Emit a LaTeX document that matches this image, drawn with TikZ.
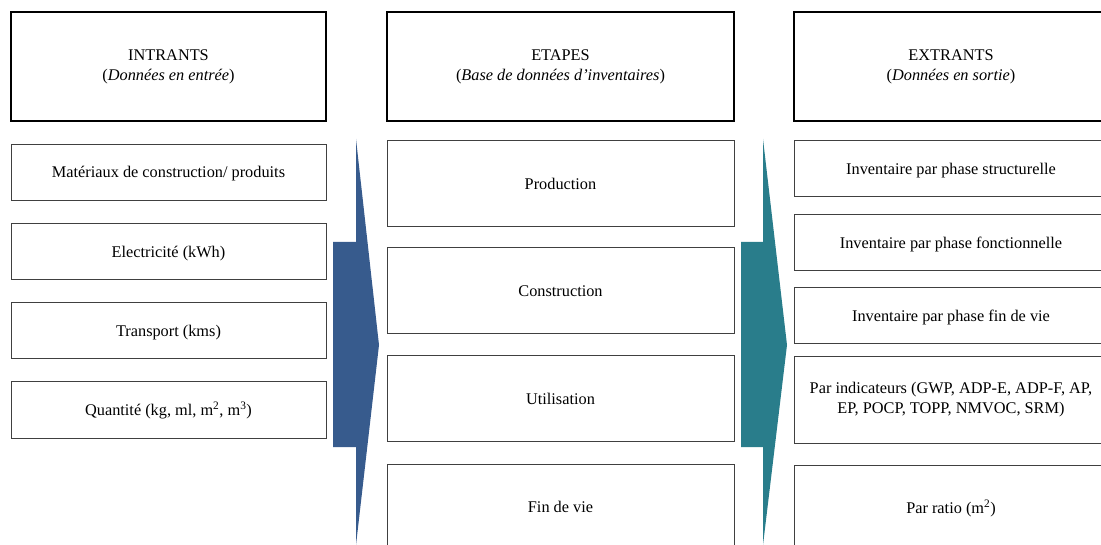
\documentclass[tikz,border=0pt]{standalone}
\usepackage{fontspec}
\setmainfont{Liberation Serif}
\usepackage{tikz}
\usetikzlibrary{positioning}

\definecolor{flecheBleu}{RGB}{55,91,141}
\definecolor{flecheVert}{RGB}{41,125,139}

% hauteur de ligne fixe
\newcommand{\ligne}{\rule[-0.216em]{0pt}{1.107em}}
\newcommand{\ligneHaute}{\rule[-0.216em]{0pt}{\dimexpr1.107em+4pt\relax}}

\tikzset{
  entete/.style = {draw=black, line width=2pt, align=center, inner sep=0pt,
                   minimum height=109pt, font=\fontsize{16.3}{20}\selectfont,
                   execute at begin node=\ligneHaute, execute at end node=\ligne},
  boite/.style  = {draw=black!75, line width=1pt, align=center, inner sep=0pt,
                   font=\fontsize{16.3}{20}\selectfont,
                   execute at begin node=\ligne, execute at end node=\ligne},
}

\begin{document}
\begin{tikzpicture}[x=1pt, y=-1pt]
    \useasboundingbox (0,0) rectangle (1101,545);
    \clip (0,0) rectangle (1101,545);

    % en-tetes
    \node (intr) at (168.5,66.5) [entete, minimum width=315pt] {INTRANTS\\(\textit{Données en entrée})};
    \node (etap) at (560.5,66.5) [entete, minimum width=347pt] {ETAPES\\(\textit{Base de données d’inventaires})};
    \node (extr) at (951,66.5)   [entete, minimum width=314pt] {EXTRANTS\\(\textit{Données en sortie})};

    % intrants
    \node (mat)  at (168.5,172.5) [boite, minimum width=315pt, minimum height=56pt] {Matériaux de construction/ produits};
    \node (elec) at (168.5,252)   [boite, minimum width=315pt, minimum height=56pt] {Electricité (kWh)};
    \node (trsp) at (168.5,331)   [boite, minimum width=315pt, minimum height=56pt] {Transport (kms)};
    \node (qte)  at (168.5,410)   [boite, minimum width=315pt, minimum height=56pt] {Quantité (kg, ml, m\textsuperscript{2}, m\textsuperscript{3})};

    % fleche bleue
    \fill[flecheBleu] (356,139) -- (379,345) -- (356,545) -- (356,447)
                      -- (333,447) -- (333,242) -- (356,242) -- cycle;

    % etapes
    \node (prod)  at (560.5,184)   [boite, minimum width=347pt, minimum height=86pt] {Production};
    \node (cons)  at (560.5,291)   [boite, minimum width=347pt, minimum height=86pt] {Construction};
    \node (util)  at (560.5,398.5) [boite, minimum width=347pt, minimum height=85pt] {Utilisation};
    \node (fin)   at (560.5,507)   [boite, minimum width=347pt, minimum height=86pt] {Fin de vie};

    % fleche verte
    \fill[flecheVert] (763,139) -- (787,345) -- (763,545) -- (763,447)
                      -- (741,447) -- (741,242) -- (763,242) -- cycle;

    % extrants
    \node (struc) at (951,169) [boite, minimum width=314pt, minimum height=56pt] {Inventaire par phase structurelle};
    \node (fonc)  at (951,243) [boite, minimum width=314pt, minimum height=56pt] {Inventaire par phase fonctionnelle};
    \node (fvie)  at (951,316) [boite, minimum width=314pt, minimum height=56pt] {Inventaire par phase fin de vie};
    \node (indic) at (951,400) [boite, minimum width=314pt, minimum height=86pt] {Par indicateurs (GWP, ADP-E, ADP-F, AP,\\EP, POCP, TOPP, NMVOC, SRM)};
    \node (ratio) at (951,508) [boite, minimum width=314pt, minimum height=86pt] {Par ratio (m\textsuperscript{2})};
\end{tikzpicture}
\end{document}
